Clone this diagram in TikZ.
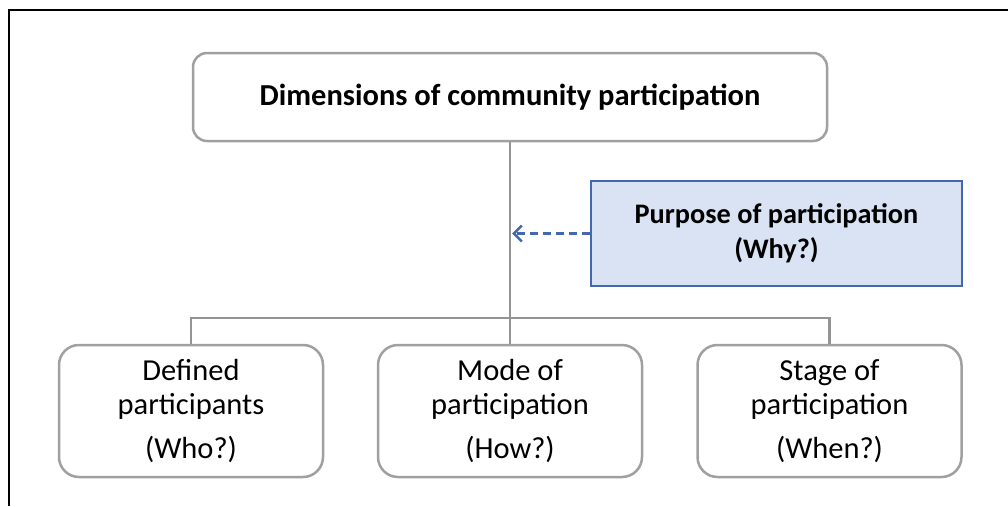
\documentclass[tikz,border=0pt]{standalone}
\usepackage{fontspec}
\setmainfont{Carlito}
\usetikzlibrary{arrows.meta}
\definecolor{linegray}{HTML}{A0A0A0}
\definecolor{conngray}{HTML}{949494}
\definecolor{bluefill}{HTML}{DAE3F3}
\definecolor{blueline}{HTML}{4468B0}
\tikzset{
  roundbox/.style={draw=linegray, line width=2.5pt, rounded corners=14pt, fill=white, align=center, inner sep=0pt},
  bottombox/.style={roundbox, rounded corners=20pt, minimum width=264pt, minimum height=132pt, font=\fontsize{30.5}{34}\selectfont},
  purposebox/.style={draw=blueline, fill=bluefill, line width=2.5pt, minimum width=371pt, minimum height=105pt, align=center, inner sep=0pt, font=\bfseries\fontsize{28.3}{35}\selectfont},
  conn/.style={draw=conngray, line width=2.5pt},
  dasharrow/.style={draw=blueline, line width=2.5pt, dash pattern=on 8pt off 5pt, -{Straight Barb[length=8pt,width=16pt,line width=2.5pt]}}
}
\begin{document}
\begin{tikzpicture}[x=1pt,y=-1pt]
\useasboundingbox (0,0) rectangle (1008,506);
\draw[line width=2.5pt, black] (9,506) -- (9,10) -- (1008,10);
\node[roundbox, minimum width=634pt, minimum height=88pt, font=\bfseries\fontsize{30.5}{34}\selectfont] (top) at (510,97) {Dimensions of community participation};
\node[purposebox] (purpose) at (776.5,233.5) {Purpose of participation\\(Why?)};
\node[bottombox] (b1) at (191,411) {Defined\\participants\\[10pt](Who?)};
\node[bottombox] (b2) at (510,411) {Mode of\\participation\\[10pt](How?)};
\node[bottombox] (b3) at (829.5,411) {Stage of\\participation\\[10pt](When?)};
\coordinate (hub) at (510,318);
\draw[conn] (top.south) -- (hub);
\draw[conn] (hub) -- (b2.north);
\draw[conn] (b1.north) |- (hub) -| (b3.north);
\coordinate (tipend) at (512,233.5);
\draw[dasharrow] (purpose.west) -- (tipend);
\end{tikzpicture}
\end{document}
